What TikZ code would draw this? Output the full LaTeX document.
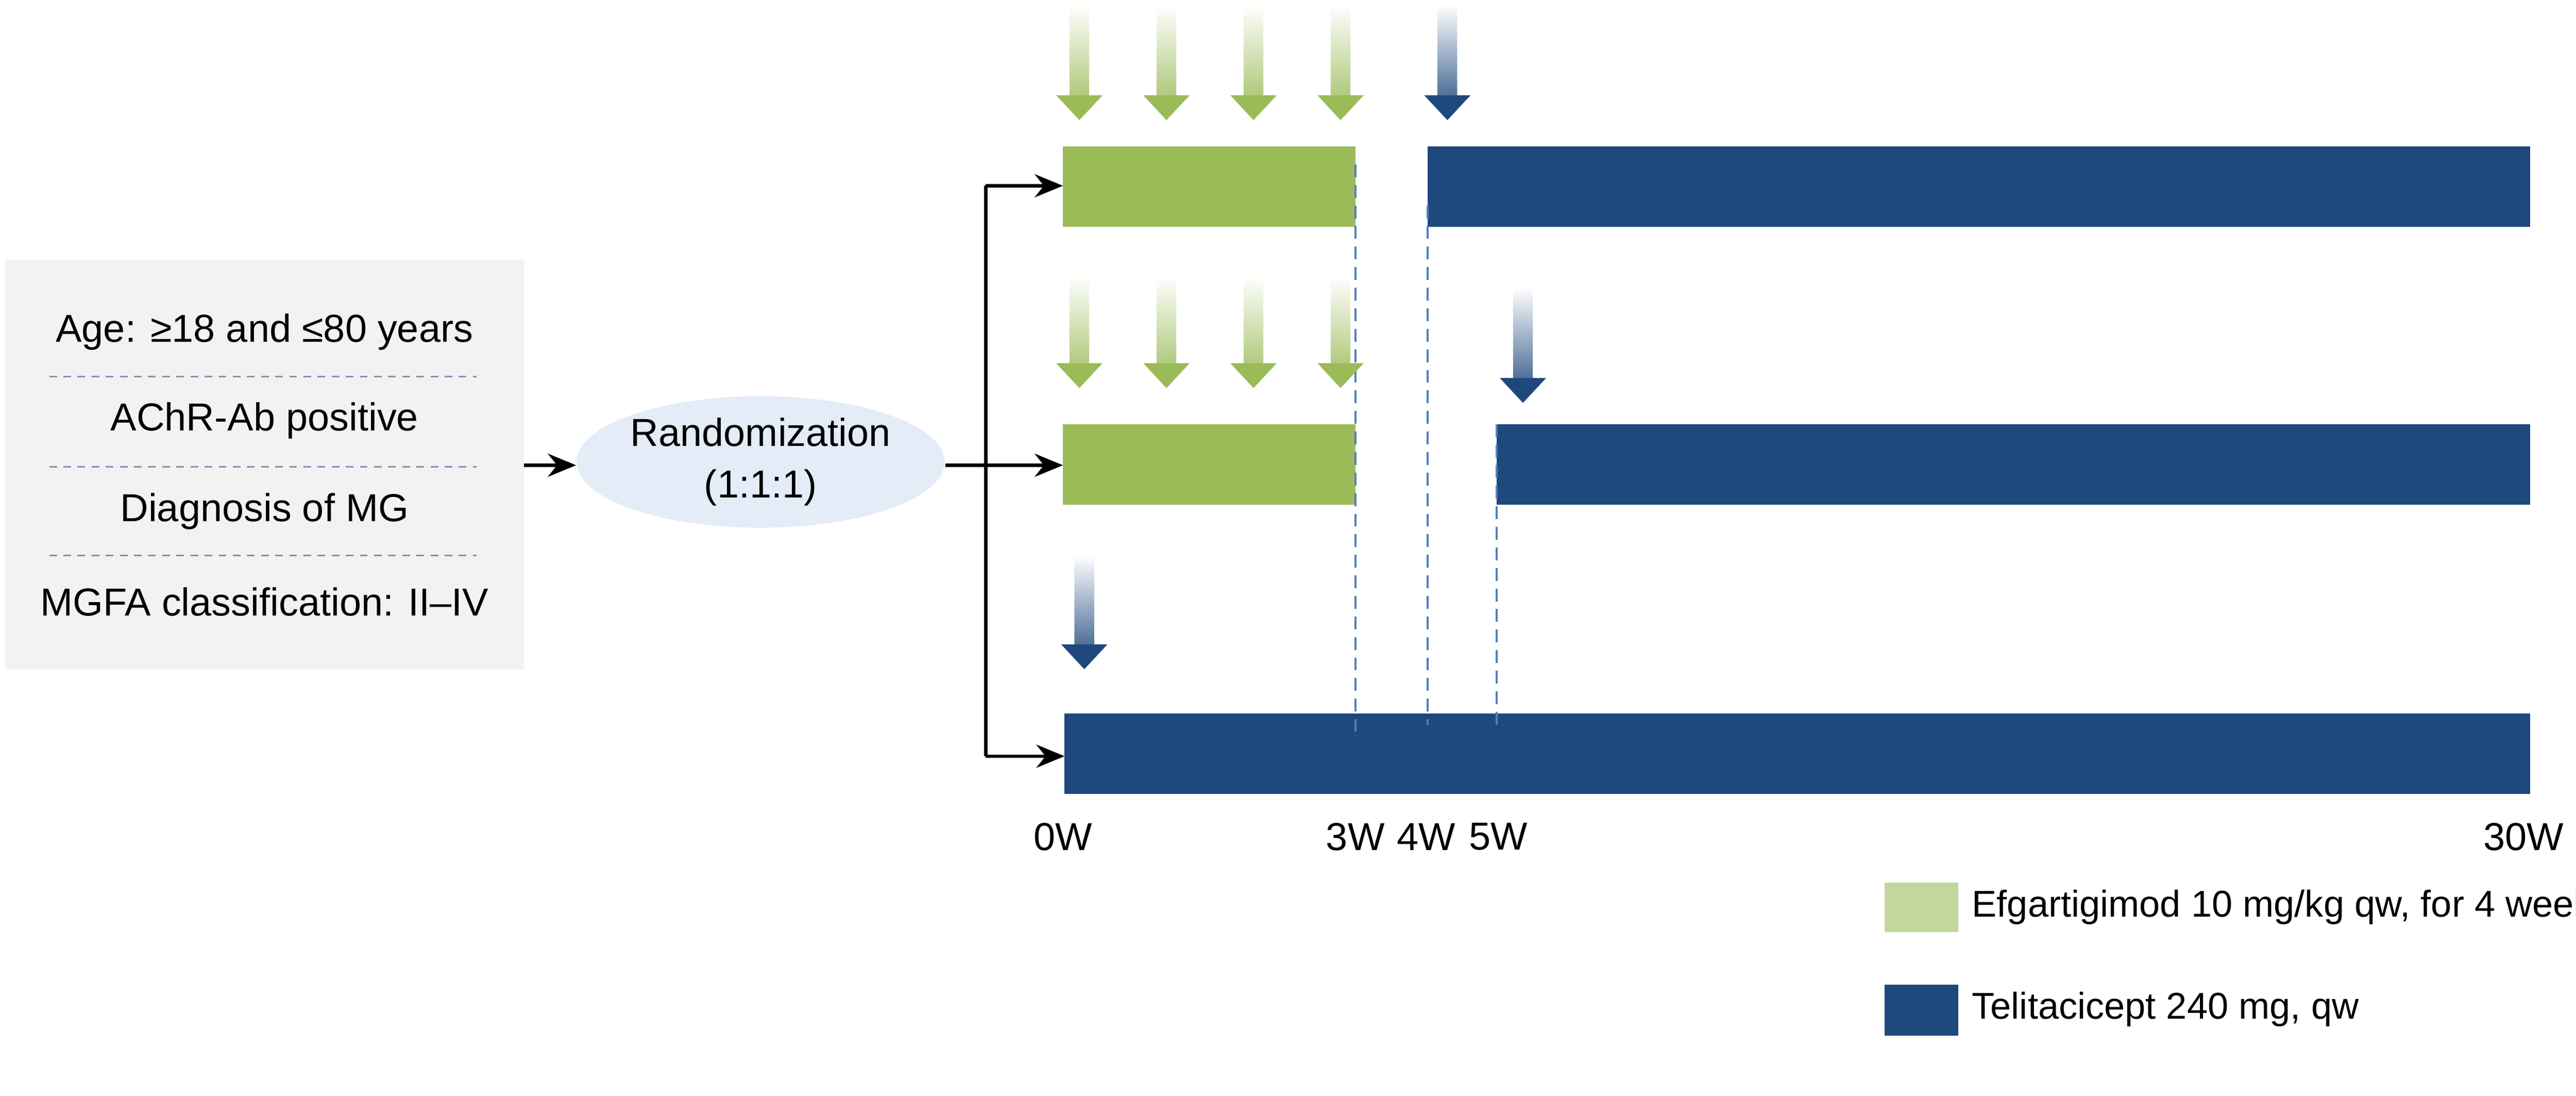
\documentclass[tikz,border=0pt]{standalone}
\usepackage{fontspec}
\setmainfont{Liberation Sans}
\usetikzlibrary{arrows.meta,shapes.geometric}
\definecolor{grn}{HTML}{9BBB59}
\definecolor{lgrn}{HTML}{C3D69B}
\definecolor{blu}{HTML}{1F497D}
\definecolor{dashblue}{HTML}{4F81BD}
\definecolor{boxg}{HTML}{F2F2F2}
\definecolor{ell}{HTML}{E3ECF7}
\newcommand\myDownArrow[4]{% x, ytop, ytip, color
  \pgfmathsetmacro\hb{#3-15}
  \shade[top color=white, bottom color=#4, draw=none]
    (#1-6,#2) -- (#1+6,#2) -- (#1+6,\hb) -- (#1+14,\hb) -- (#1,#3) -- (#1-14,\hb) -- (#1-6,\hb) -- cycle;
  \fill[#4] (#1+14,\hb) -- (#1,#3) -- (#1-14,\hb) -- cycle;}
\begin{document}
\begin{tikzpicture}[x=0.64pt,y=-0.64pt,
  txt/.style={font=\fontsize{15.2}{18}\selectfont, inner sep=0pt},
  conn/.style={line width=1.3pt,-{Stealth[length=11pt,width=9pt]}},
  vd/.style={draw=dashblue, line width=0.9pt, dash pattern=on 5pt off 3pt},
  sep/.style={draw=blu!60, line width=0.6pt, dash pattern=on 3pt off 2.5pt}]
\useasboundingbox (0,0) rectangle (1568,666.5);
% left box
\fill[boxg] (3,158) rectangle (319,407);
\node[txt] (t1) at (161,202) {Age: ≥18 and ≤80 years};
\node[txt] (t2) at (161,256) {AChR-Ab positive};
\node[txt] (t3) at (161,311) {Diagnosis of MG};
\node[txt] (t4) at (161,366) {MGFA classification: II–IV};
\foreach \y in {229,284,338}{
  \draw[sep] (30,\y) -- (290,\y);}
\coordinate (boxr) at (319,283);
% ellipse
\node[ellipse, fill=ell, minimum width=180*0.64pt, minimum height=80*0.64pt, txt, inner sep=0pt, align=center] (rand) at (463,281) {Randomization\\[2pt](1:1:1)};
\draw[conn] (boxr) -- (rand.west |- boxr);
% bars
\fill[grn] (647,89) rectangle (825,138);
\fill[blu] (869,89) rectangle (1540,138);
\fill[grn] (647,258) rectangle (825,307);
\fill[blu] (911,258) rectangle (1540,307);
\fill[blu] (648,434) rectangle (1540,483);
\coordinate (r1) at (647,113);
\coordinate (r2) at (647,283);
\coordinate (r3) at (648,460);
\coordinate (sp) at (600,283);
\draw[line width=1.3pt] (rand.east |- sp) -- (sp);
\draw[line width=1.3pt] (600,113) -- (600,460);
\draw[conn] (600,113) -- (r1);
\draw[conn] (sp) -- (r2);
\draw[conn] (600,460) -- (r3);
% dashed verticals
\draw[vd] (825,100) -- (825,445);
\draw[vd] (869,125) -- (869,441);
\draw[vd] (911,258) -- (911,441);
% dose arrows
\foreach \x in {657,710,763,816}{
  \myDownArrow{\x}{3}{73}{grn}
  \myDownArrow{\x}{168}{236}{grn}}
\myDownArrow{881}{3}{73}{blu}
\myDownArrow{927}{175}{245}{blu}
\myDownArrow{660}{338}{407}{blu}
% week labels
\node[txt] (w0) at (647,509) {0W};
\node[txt] (w3) at (825,509) {3W};
\node[txt] (w4) at (868,509) {4W};
\node[txt] (w5) at (912,509) {5W};
\node[txt] (w30) at (1536,509) {30W};
% legend
\fill[lgrn] (1147,537) rectangle (1192,567);
\node[txt, anchor=west, font=\fontsize{14.5}{17}\selectfont] (l1) at (1200,552) {Efgartigimod 10 mg/kg qw, for 4 weeks};
\fill[blu] (1147,599) rectangle (1192,630);
\node[txt, anchor=west, font=\fontsize{14.5}{17}\selectfont] (l2) at (1200,614) {Telitacicept 240 mg, qw};
\end{tikzpicture}
\end{document}
